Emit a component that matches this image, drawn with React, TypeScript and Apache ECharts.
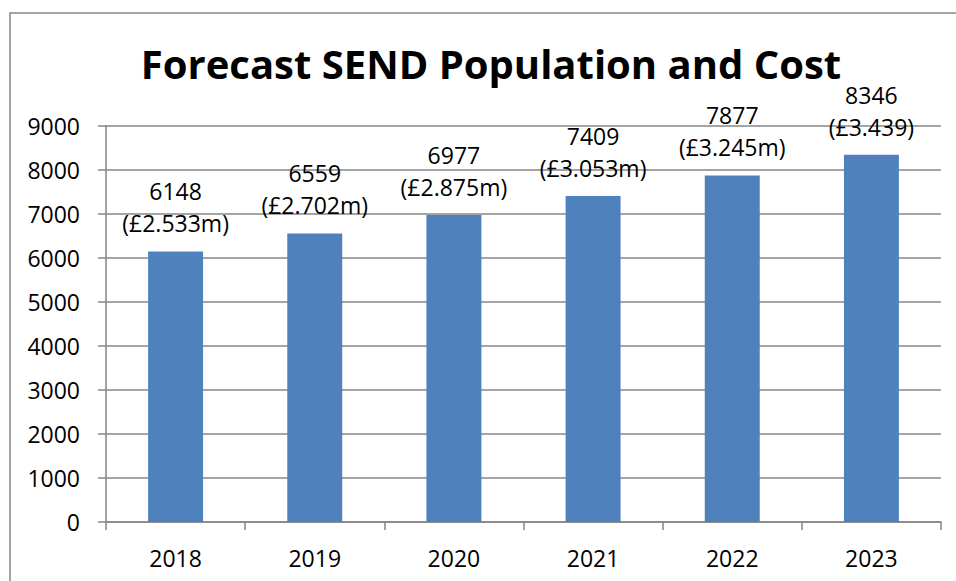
import React, { useEffect, useRef } from "react";
import * as echarts from "echarts";

const years = ["2018", "2019", "2020", "2021", "2022", "2023"];
const population = [6148, 6559, 6977, 7409, 7877, 8346];
const costLabels = ["(£2.533m)", "(£2.702m)", "(£2.875m)", "(£3.053m)", "(£3.245m)", "(£3.439)"];
const titleText = "Forecast SEND Population and Cost";

const FONT = "Open Sans";

export default function App() {
  const ref = useRef<HTMLDivElement>(null);
  useEffect(() => {
    if (!ref.current) return;
    const chart = echarts.init(ref.current, undefined, { renderer: "svg" });
    chart.setOption({
      animation: false,
      backgroundColor: "#ffffff",
      title: {
        text: titleText,
        left: 486,
        top: 38,
        textAlign: "center",
        textStyle: { fontFamily: FONT, fontWeight: "bold", fontSize: 40, color: "#000000" },
      },
      graphic: [
        {
          type: "rect",
          shape: { x: 10, y: 13, width: 1200, height: 1200 },
          style: { fill: "none", stroke: "#868686", lineWidth: 1.5 },
          silent: true,
        },
      ],
      grid: { left: 106, right: 15, top: 126, bottom: 59, containLabel: false },
      xAxis: {
        type: "category",
        data: years,
        axisLine: { show: true, lineStyle: { color: "#868686", width: 1.5 } },
        axisTick: { show: true, alignWithLabel: false, length: 8, lineStyle: { color: "#868686", width: 1.5 } },
        axisLabel: { color: "#000000", fontFamily: FONT, fontSize: 23, margin: 24 },
      },
      yAxis: {
        type: "value",
        min: 0,
        max: 9000,
        interval: 1000,
        axisLine: { show: true, lineStyle: { color: "#868686", width: 1.5 } },
        axisTick: { show: true, length: 8, lineStyle: { color: "#868686", width: 1.5 } },
        axisLabel: {
          color: "#000000",
          fontFamily: FONT,
          fontSize: 23,
          margin: 26,
          formatter: (v: number) => String(v),
        },
        splitLine: { show: true, lineStyle: { color: "#868686", width: 1.5 } },
      },
      series: [
        {
          type: "bar",
          data: population,
          barWidth: "39.5%",
          itemStyle: { color: "#4F81BD" },
          label: {
            show: true,
            position: "top",
            distance: 12,
            fontFamily: FONT,
            fontSize: 23,
            lineHeight: 32,
            color: "#000000",
            formatter: (p: any) => `${p.value}\n${costLabels[p.dataIndex]}`,
          },
        },
      ],
    });
    return () => chart.dispose();
  }, []);
  return <div ref={ref} style={{ position: "fixed", left: 0, top: 0, width: 956, height: 581 }} />;
}
